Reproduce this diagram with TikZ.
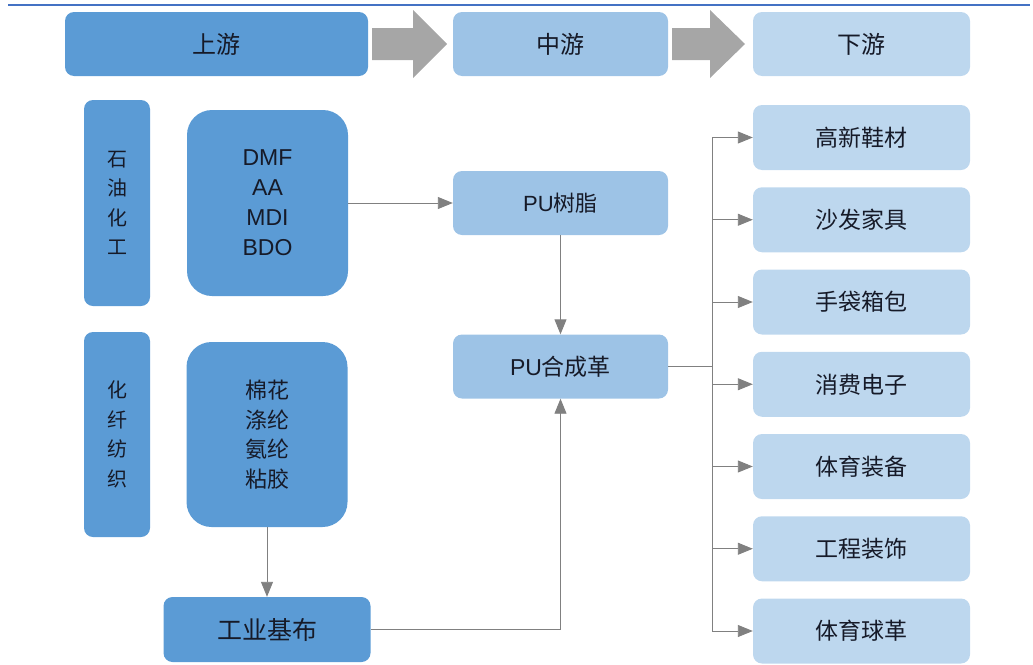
\documentclass[tikz,border=0pt]{standalone}
\usepackage{fontspec}
\setmainfont{Liberation Sans}
\newfontfamily\cjk{Noto Sans CJK SC}
\usepackage{tikz}
\usetikzlibrary{positioning, arrows.meta}
\definecolor{upblue}{RGB}{91,155,213}
\definecolor{midblue}{RGB}{157,195,230}
\definecolor{downblue}{RGB}{189,215,238}
\definecolor{arrowgray}{RGB}{166,166,166}
\definecolor{linegray}{RGB}{128,128,128}
\definecolor{txtdark}{RGB}{22,26,40}
\definecolor{topline}{RGB}{68,114,196}

\begin{document}
\begin{tikzpicture}[x=1pt, y=-1pt,
    box/.style={rounded corners=9pt, text=txtdark, align=center, inner sep=0pt},
    upbox/.style={box, fill=upblue},
    midbox/.style={box, fill=midblue, minimum width=215pt, minimum height=64pt},
    downbox/.style={box, fill=downblue, minimum width=217pt, minimum height=65pt},
    head/.style={font=\cjk\fontsize{24}{28}\selectfont, minimum height=64pt},
    vtext/.style={upbox, minimum width=66pt, font=\cjk\fontsize{20}{29.5}\selectfont},
    lst/.style={upbox, rounded corners=25pt, minimum width=161pt},
    plain/.style={draw=linegray, line width=0.9pt},
    link/.style={plain, -{Triangle[length=15pt,width=12pt]}}]
    \useasboundingbox (0,0) rectangle (1033,664);

    \draw[topline, line width=1.6pt] (8,5) -- (1030,5);

    \node[upbox, head, minimum width=303pt] (up) at (216.5,44) {上游};
    \node[midbox, head] (mid) at (560.5,44) {中游};
    \node[downbox, head, minimum height=64pt] (down) at (861.5,44) {下游};

    \fill[arrowgray] (372,28) -- (413,28) -- (413,10) -- (447,44) -- (413,78) -- (413,60) -- (372,60) -- cycle;
    \fill[arrowgray] (672,28) -- (710,28) -- (710,10) -- (745,44) -- (710,78) -- (710,60) -- (672,60) -- cycle;

    \node[vtext, minimum height=206pt] (petro) at (117,203) {石\\油\\化\\工};
    \node[lst, minimum height=186pt, font=\fontsize{23}{30}\selectfont] (chem) at (267.5,203) {DMF\\AA\\MDI\\BDO};
    \node[vtext, minimum height=205pt] (fiber) at (117,434.5) {化\\纤\\纺\\织};
    \node[lst, minimum height=185pt, font=\cjk\fontsize{22}{29.5}\selectfont] (yarn) at (267,434.5) {棉花\\涤纶\\氨纶\\粘胶};
    \node[upbox, minimum width=207pt, minimum height=65pt, font=\cjk\fontsize{25}{28}\selectfont] (base) at (267,629.5) {工业基布};

    \node[midbox, font=\fontsize{22}{26}\selectfont] (resin) at (560.5,203) {PU{\cjk 树脂}};
    \node[midbox, font=\fontsize{23}{26}\selectfont] (leather) at (560.5,366.5) {PU{\cjk 合成革}};

    \foreach \i/\t in {1/高新鞋材, 2/沙发家具, 3/手袋箱包, 4/消费电子, 5/体育装备, 6/工程装饰, 7/体育球革}
        \node[downbox, font=\cjk\fontsize{23}{26}\selectfont] (d\i) at (861.5,{137.5+82.25*(\i-1)}) {\t};

    \coordinate (trunk) at (712,366.5);

    \draw[link] (chem.east) -- (resin.west);
    \draw[link] (resin.south) -- (leather.north);
    \draw[link] (yarn.south) -- (base.north);
    \draw[link] (base.east) -| (leather.south);
    \draw[plain] (leather.east) -- (trunk);
    \draw[plain] (trunk |- d1.west) -- (trunk |- d7.west);
    \foreach \i in {1,...,7}
        \draw[link] (trunk |- d\i.west) -- (d\i.west);
\end{tikzpicture}
\end{document}
